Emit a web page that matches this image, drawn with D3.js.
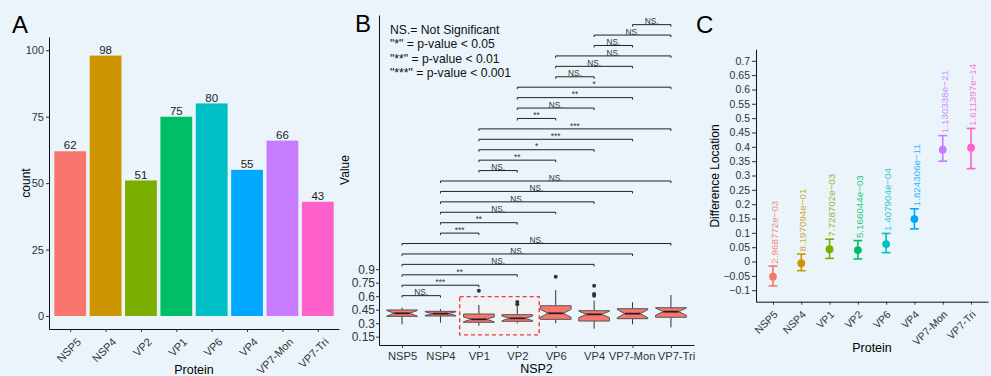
<!DOCTYPE html>
<html><head><meta charset="utf-8">
<script src="https://cdn.jsdelivr.net/npm/d3@7"></script>
<style>
html,body{margin:0;padding:0;background:#EAF4FA;}
svg{display:block;}
</style>
</head><body>
<svg id="c" width="991" height="376"></svg>
<script>
// ---------- DATA ----------
const proteinsA = ["NSP5","NSP4","VP2","VP1","VP6","VP4","VP7-Mon","VP7-Tri"];
const countsA = [62, 98, 51, 75, 80, 55, 66, 43];
const yTicksA = [0, 25, 50, 75, 100];

const boxCats = ["NSP5","NSP4","VP1","VP2","VP6","VP4","VP7-Mon","VP7-Tri"];
const whiskerLow  = [0.288, 0.306, 0.272, 0.299, 0.299, 0.239, 0.288, 0.254];
const q1          = [0.376, 0.380, 0.310, 0.321, 0.343, 0.324, 0.350, 0.366];
const medians     = [0.410, 0.406, 0.343, 0.354, 0.410, 0.398, 0.406, 0.428];
const q3          = [0.447, 0.432, 0.402, 0.395, 0.494, 0.439, 0.461, 0.472];
const whiskerHigh = [0.472, 0.458, 0.502, 0.490, 0.669, 0.550, 0.532, 0.613];
const notchLow    = [0.378, 0.386, 0.316, 0.328, 0.366, 0.362, 0.360, 0.388];
const notchHigh   = [0.442, 0.426, 0.370, 0.380, 0.454, 0.434, 0.452, 0.468];
const outlierCats   = ["VP1","VP2","VP2","VP6","VP4","VP4","VP4"];
const outlierValues = [0.661, 0.535, 0.510, 0.817, 0.717, 0.624, 0.606];
const yTicksB = [0.15, 0.3, 0.45, 0.6, 0.75, 0.9];

const bracketFrom = ["NSP5","NSP5","NSP5","NSP5","NSP5","NSP5",
  "NSP4","NSP4","NSP4","NSP4","NSP4","NSP4",
  "VP1","VP1","VP1","VP1","VP1",
  "VP2","VP2","VP2","VP2",
  "VP6","VP6","VP6",
  "VP4","VP4",
  "VP7-Mon"];
const bracketTo = ["NSP4","VP1","VP2","VP4","VP7-Mon","VP7-Tri",
  "VP1","VP2","VP6","VP4","VP7-Mon","VP7-Tri",
  "VP2","VP6","VP4","VP7-Mon","VP7-Tri",
  "VP6","VP4","VP7-Mon","VP7-Tri",
  "VP4","VP7-Mon","VP7-Tri",
  "VP7-Mon","VP7-Tri",
  "VP7-Tri"];
const bracketLabel = ["NS.","***","**","NS.","NS.","NS.",
  "***","**","NS.","NS.","NS.","NS.",
  "NS.","**","*","***","***",
  "**","NS.","**","*",
  "NS.","NS.","NS.",
  "NS.","NS.",
  "NS."];
const legendLines = ["NS.= Not Significant", "\"*\" = p-value < 0.05", "\"**\" = p-value < 0.01", "\"***\" = p-value < 0.001"];

const diffCats = ["NSP5","NSP4","VP1","VP2","VP6","VP4","VP7-Mon","VP7-Tri"];
const diffEstimate = [-0.053, -0.006, 0.043, 0.040, 0.061, 0.148, 0.390, 0.397];
const diffLower    = [-0.085, -0.032, 0.011, 0.009, 0.031, 0.114, 0.350, 0.324];
const diffUpper    = [-0.016, 0.026, 0.078, 0.073, 0.098, 0.184, 0.439, 0.464];
const pValueLabels = ["2.968772e\u221203","8.197094e\u221201","7.728702e\u221203","5.166044e\u221203","1.407904e\u221204","1.824306e\u221211","1.130338e\u221221","1.611397e\u221214"];
const yTicksC = [-0.1,-0.05,0,0.05,0.1,0.15,0.2,0.25,0.3,0.35,0.4,0.45,0.5,0.55,0.6,0.65,0.7];

const hue = ["#F8766D","#CD9600","#7CAE00","#00BE67","#00BFC4","#00A9FF","#C77CFF","#FF61CC"];

// ---------- DRAW ----------
const FONT = '"Liberation Sans", Arial, Helvetica, sans-serif';
const svg = d3.select("#c").attr("font-family", FONT);

function styleAxis(g, fs){
  g.attr("font-family", FONT);
  g.select(".domain").attr("stroke","#111").attr("stroke-width",1);
  g.selectAll(".tick line").attr("stroke","#333").attr("stroke-width",1);
  g.selectAll(".tick text").attr("fill","#333").attr("font-size",fs);
}
function panelLabel(t,x,y){
  svg.append("text").attr("x",x).attr("y",y).attr("font-size",24).attr("fill","#000").text(t);
}
function rotatedXLabels(g, scale, cats, axisY, fs, dx){
  g.selectAll("text.rl").data(cats).join("text").attr("class","rl")
    .attr("transform", d => `translate(${scale(d)+dx},${axisY+8}) rotate(-45)`)
    .attr("text-anchor","end").attr("dy","0.72em")
    .attr("font-size",fs).attr("fill","#333").text(d=>d);
}

// ===== Panel A =====
panelLabel("A", 12, 32.5);
const xA = d3.scalePoint().domain(proteinsA).range([49, 339]).padding(0.6);
const yA = d3.scaleLinear().domain([-4.9, 105]).range([329, 37]);
const bwA = xA.step()*0.9;
const gA = svg.append("g");
gA.selectAll("rect.bar").data(proteinsA).join("rect").attr("class","bar")
  .attr("x", d => xA(d)-bwA/2).attr("width", bwA)
  .attr("y", (d,i) => yA(countsA[i])).attr("height", (d,i) => yA(0)-yA(countsA[i]))
  .attr("fill", (d,i) => hue[i]);
gA.selectAll("text.val").data(proteinsA).join("text").attr("class","val")
  .attr("x", d => xA(d)).attr("y", (d,i) => yA(countsA[i]) - 1.8)
  .attr("text-anchor","middle").attr("font-size",11.5).attr("fill","#222")
  .text((d,i) => countsA[i]);
const ayA = svg.append("g").attr("transform","translate(49,0)")
  .call(d3.axisLeft(yA).tickValues(yTicksA).tickSize(3).tickPadding(2).tickSizeOuter(0));
styleAxis(ayA, 11);
const axA = svg.append("g").attr("transform","translate(0,329)")
  .call(d3.axisBottom(xA).tickSize(3).tickSizeOuter(0));
styleAxis(axA, 11);
axA.selectAll(".tick text").remove();
rotatedXLabels(svg.append("g"), xA, proteinsA, 329, 11, 6);
svg.append("text").attr("x",194).attr("y",373.5).attr("text-anchor","middle").attr("font-size",12.5).text("Protein");
svg.append("text").attr("transform","translate(30,183) rotate(-90)").attr("text-anchor","middle").attr("font-size",12).text("count");

// ===== Panel B =====
panelLabel("B", 355, 32);
const xB = d3.scalePoint().domain(boxCats).range([379, 694]).padding(0.6);
const yB = d3.scaleLinear().domain([0.0578, 3.724]).range([345, 15]);
const bwB = xB.step()*0.8;

// highlight rectangle (behind boxes)
svg.append("rect")
  .attr("x", xB("VP1") - xB.step()*0.5).attr("width", xB("VP2") - xB("VP1") + xB.step()*1.07)
  .attr("y", yB(0.595)).attr("height", yB(0.17) - yB(0.595))
  .attr("fill","#F1F2F3").attr("stroke","#EE3B36").attr("stroke-width",1.4).attr("stroke-dasharray","4,3");

const gB = svg.append("g");
boxCats.forEach((c,i) => {
  const cx = xB(c), x0 = cx - bwB/2, x1 = cx + bwB/2, ind = bwB*0.25;
  gB.append("line").attr("x1",cx).attr("x2",cx).attr("y1",yB(q3[i])).attr("y2",yB(whiskerHigh[i])).attr("stroke","#333").attr("stroke-width",1);
  gB.append("line").attr("x1",cx).attr("x2",cx).attr("y1",yB(q1[i])).attr("y2",yB(whiskerLow[i])).attr("stroke","#333").attr("stroke-width",1);
  const pts = [
    [x0, yB(q3[i])],[x0, yB(notchHigh[i])],[x0+ind, yB(medians[i])],[x0, yB(notchLow[i])],[x0, yB(q1[i])],
    [x1, yB(q1[i])],[x1, yB(notchLow[i])],[x1-ind, yB(medians[i])],[x1, yB(notchHigh[i])],[x1, yB(q3[i])]
  ];
  gB.append("path").attr("d", d3.line()(pts)+"Z").attr("fill","#F8766D").attr("stroke","#555").attr("stroke-width",1);
  gB.append("line").attr("x1",x0+ind).attr("x2",x1-ind).attr("y1",yB(medians[i])).attr("y2",yB(medians[i])).attr("stroke","#222").attr("stroke-width",1.8);
});
gB.selectAll("circle.out").data(outlierValues).join("circle").attr("class","out")
  .attr("cx",(d,i)=>xB(outlierCats[i])).attr("cy",d=>yB(d)).attr("r",2).attr("fill","#333");

// brackets
const bStart = 0.606, bStep = 0.1158, tip = 0.022;
const gBr = svg.append("g");
bracketFrom.forEach((f,i) => {
  const yv = bStart + i*bStep, xa = xB(f), xb = xB(bracketTo[i]);
  const y = yB(yv), yt = yB(yv - tip);
  gBr.append("path").attr("d", `M${xa},${yt}L${xa},${y}L${xb},${y}L${xb},${yt}`)
    .attr("fill","none").attr("stroke","#222").attr("stroke-width",1);
  gBr.append("text").attr("x",(xa+xb)/2).attr("y", y-0.3).attr("text-anchor","middle")
    .attr("font-size",8.3).attr("fill","#333").text(bracketLabel[i]);
});
// legend text
svg.append("g").selectAll("text").data(legendLines).join("text")
  .attr("x",390).attr("y",(d,i)=>33.5 + i*14.5).attr("font-size",12.2).attr("fill","#111").text(d=>d);

const ayB = svg.append("g").attr("transform","translate(379,0)")
  .call(d3.axisLeft(yB).tickValues(yTicksB).tickFormat(d=>String(d)).tickSize(3).tickPadding(1).tickSizeOuter(0));
styleAxis(ayB, 12);
const axB = svg.append("g").attr("transform","translate(0,345)")
  .call(d3.axisBottom(xB).tickSize(3).tickPadding(4).tickSizeOuter(0));
styleAxis(axB, 11.2);
axB.selectAll(".tick text").filter(d => d === "VP7-Tri").attr("dx", 5);
axB.selectAll(".tick text").filter(d => d === "VP7-Mon").attr("dx", -1);
svg.append("text").attr("x",xB("VP2")+ (xB("VP6")-xB("VP2"))/2).attr("y",373).attr("text-anchor","middle").attr("font-size",12.5).text("NSP2");
svg.append("text").attr("transform","translate(349,170) rotate(-90)").attr("text-anchor","middle").attr("font-size",12).text("Value");

// ===== Panel C =====
panelLabel("C", 696, 33);
const xC = d3.scalePoint().domain(diffCats).range([756, 988]).padding(0.6);
const yC = d3.scaleLinear().domain([-0.140, 0.740]).range([301.7, 49.3]);
const gC = svg.append("g");
diffCats.forEach((c,i) => {
  const cx = xC(c), col = hue[i], cap = 4.4;
  gC.append("line").attr("x1",cx).attr("x2",cx).attr("y1",yC(diffLower[i])).attr("y2",yC(diffUpper[i])).attr("stroke",col).attr("stroke-width",1.6);
  gC.append("line").attr("x1",cx-cap).attr("x2",cx+cap).attr("y1",yC(diffLower[i])).attr("y2",yC(diffLower[i])).attr("stroke",col).attr("stroke-width",1.6);
  gC.append("line").attr("x1",cx-cap).attr("x2",cx+cap).attr("y1",yC(diffUpper[i])).attr("y2",yC(diffUpper[i])).attr("stroke",col).attr("stroke-width",1.6);
  gC.append("circle").attr("cx",cx).attr("cy",yC(diffEstimate[i])).attr("r",3.9).attr("fill",col);
  gC.append("text").attr("transform",`translate(${cx+5.2},${yC(diffUpper[i])-2.5}) rotate(-90)`)
    .attr("text-anchor","start").attr("font-size",9.8).attr("fill",col).attr("fill-opacity",0.85).text(pValueLabels[i]);
});
const ayC = svg.append("g").attr("transform","translate(756,0)")
  .call(d3.axisLeft(yC).tickValues(yTicksC)
    .tickFormat(d => (d < 0 ? "\u2212" : "") + String(+Math.abs(d).toFixed(2)))
    .tickSize(4).tickPadding(2).tickSizeOuter(0));
styleAxis(ayC, 10.5);
const axC = svg.append("g").attr("transform","translate(0,301.7)")
  .call(d3.axisBottom(xC).tickSize(3).tickSizeOuter(0));
styleAxis(axC, 10.5);
axC.selectAll(".tick text").remove();
rotatedXLabels(svg.append("g"), xC, diffCats, 301.7, 10.5, 0);
svg.append("text").attr("x",872).attr("y",352).attr("text-anchor","middle").attr("font-size",12.5).text("Protein");
svg.append("text").attr("transform","translate(719,176) rotate(-90)").attr("text-anchor","middle").attr("font-size",12).text("Difference Location");
</script>
</body></html>
